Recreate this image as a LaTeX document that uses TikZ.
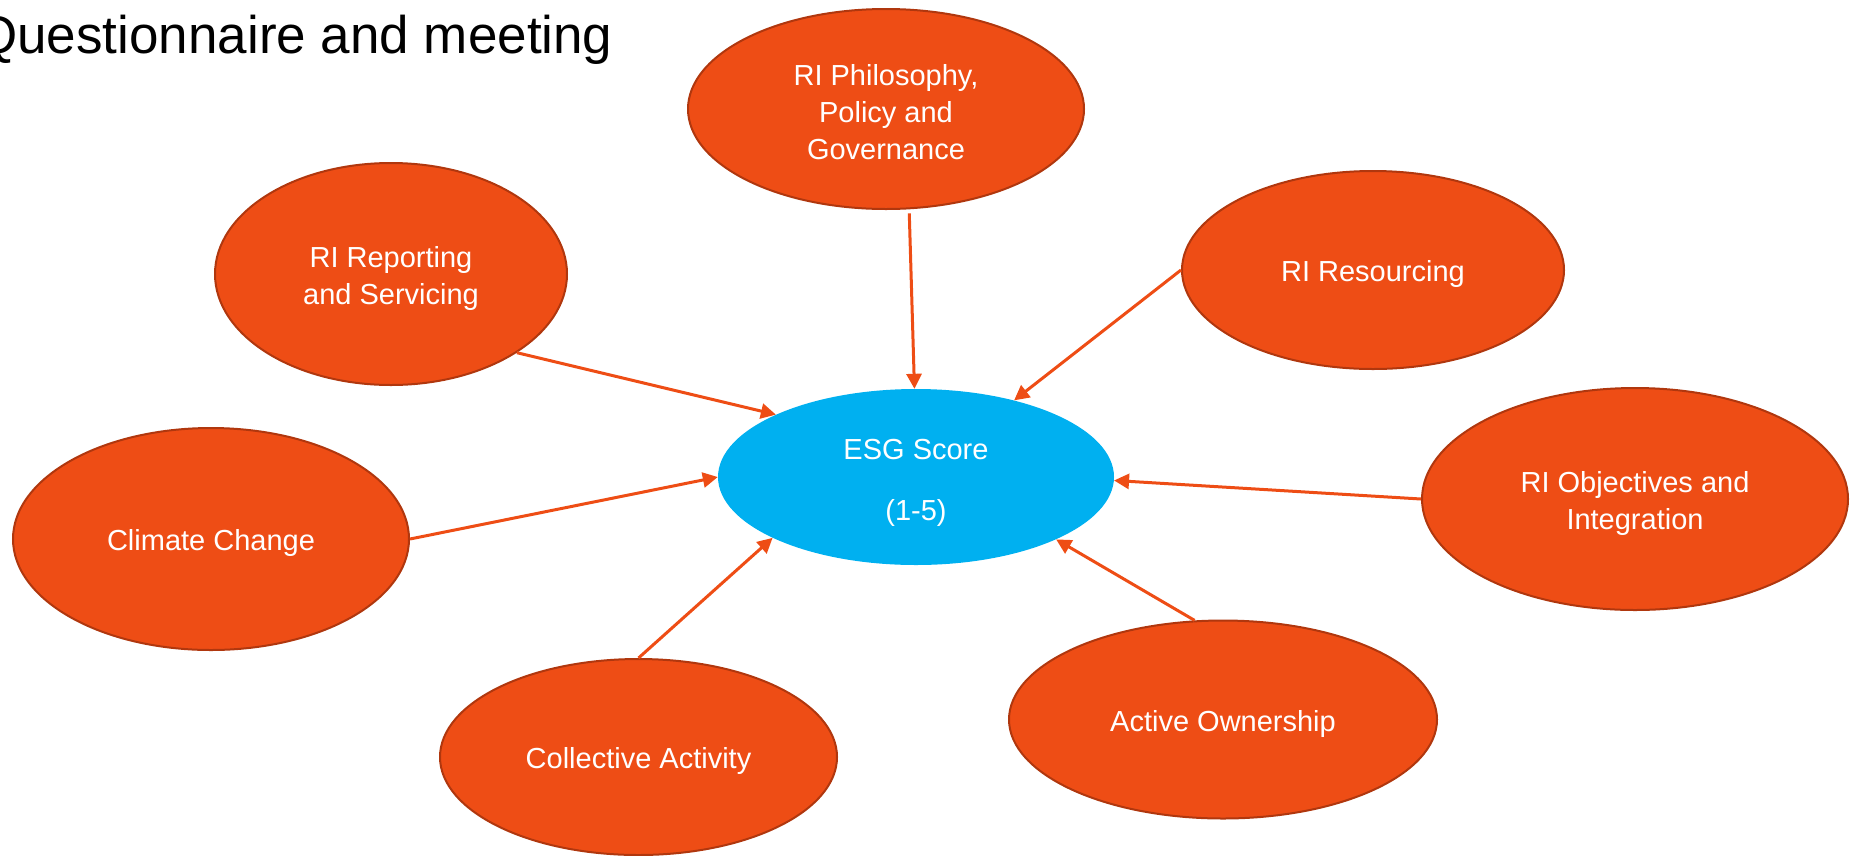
\documentclass[tikz,border=0pt]{standalone}
\usepackage{fontspec}
\setmainfont{Liberation Sans}
\usetikzlibrary{shapes.geometric,arrows.meta}

\definecolor{topicfill}{RGB}{238,77,21}
\definecolor{topicline}{RGB}{176,55,14}
\definecolor{scorefill}{RGB}{0,176,240}

\tikzset{
  topic/.style={ellipse, fill=topicfill, draw=topicline, line width=2pt,
    inner sep=0pt},
  score/.style={ellipse, fill=scorefill, draw=none, inner sep=0pt},
  caption/.style={inner sep=0pt, text=white, align=center,
    font=\fontsize{29}{37}\selectfont},
  feeds/.style={draw=topicfill, line width=3pt,
    -{Triangle[length=15pt,width=15pt]}},
}

\begin{document}
\begin{tikzpicture}[x=1pt,y=-1pt]
  \useasboundingbox (0,0) rectangle (1854,855);

  % heading
  \node[anchor=base west, inner sep=0pt, font=\fontsize{53}{63}\selectfont]
    (title) at (-24,53) {Questionnaire and meeting};

  % central score
  \node[score, minimum width=396pt, minimum height=176pt] (esg) at (916,477) {};
  \node[caption] (esg-text) at ([yshift=-6pt]esg.center)
    {ESG Score\\[24pt](1-5)};

  % surrounding topics
  \node[topic, minimum width=396pt, minimum height=200pt] (phil) at (886,109) {};
  \node[topic, minimum width=352pt, minimum height=222pt] (report) at (391,274) {};
  \node[topic, minimum width=382pt, minimum height=198pt] (resource) at (1373,270) {};
  \node[topic, minimum width=396pt, minimum height=222pt] (climate) at (211,539) {};
  \node[topic, minimum width=426pt, minimum height=222pt] (objectives) at (1635,499) {};
  \node[topic, minimum width=397pt, minimum height=196pt] (collective) at (638.5,757) {};
  \node[topic, minimum width=428pt, minimum height=198pt] (active) at (1223,719.5) {};

  % topic captions
  \node[caption] (phil-text) at ([yshift=-3pt]phil.center)
    {RI Philosophy,\\Policy and\\Governance};
  \node[caption] (report-text) at ([yshift=-4pt]report.center)
    {RI Reporting\\and Servicing};
  \node[caption] (resource-text) at ([yshift=-4pt]resource.center)
    {RI Resourcing};
  \node[caption] (climate-text) at ([yshift=-4pt]climate.center)
    {Climate Change};
  \node[caption] (objectives-text) at ([yshift=-4pt]objectives.center)
    {RI Objectives and\\Integration};
  \node[caption] (collective-text) at ([yshift=-4pt]collective.center)
    {Collective Activity};
  \node[caption] (active-text) at ([yshift=-4pt]active.center)
    {Active Ownership};

  % connectors into the score
  \draw[feeds, shorten <=4pt] (phil.-77.5) -- (esg.91.3);
  \draw[feeds] (report.-32.4) -- (esg.156.4);
  \draw[feeds] (resource.180) -- (esg.38.3);
  \draw[feeds] (climate.0) -- (esg.180.6);
  \draw[feeds] (objectives.180) -- (esg.-1.2);
  \draw[feeds] (collective.90) -- (esg.203.9);
  \draw[feeds] (active.106.8) -- (esg.-24.2);
\end{tikzpicture}
\end{document}
